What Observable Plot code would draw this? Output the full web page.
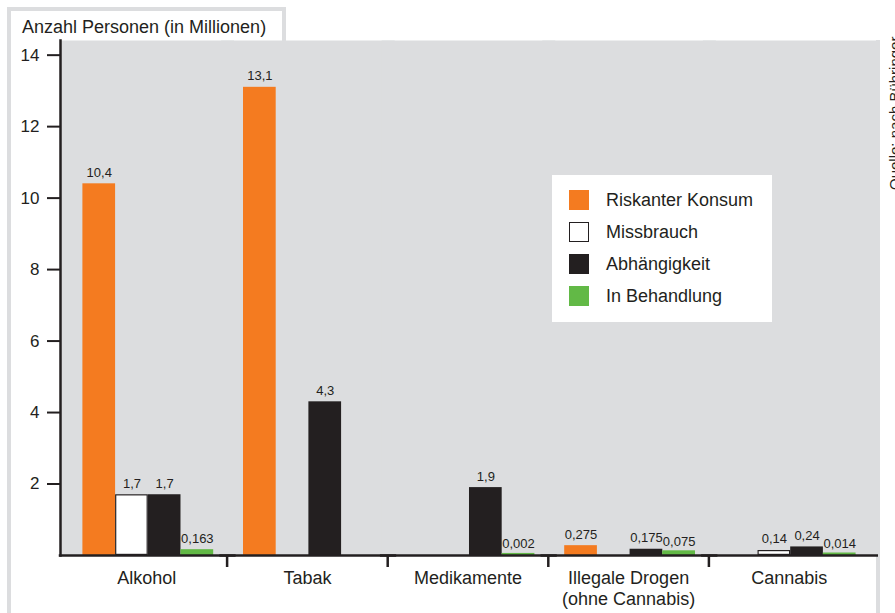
<!DOCTYPE html>
<html>
<head>
<meta charset="utf-8">
<script src="https://cdn.jsdelivr.net/npm/d3@7"></script>
<script src="https://cdn.jsdelivr.net/npm/@observablehq/plot@0.6"></script>
<style>
  html, body { margin: 0; padding: 0; background: #fff; }
  body { font-family: "Liberation Sans", Arial, sans-serif; color: #231f20; }
  #wrap { position: relative; width: 895px; height: 613px; overflow: hidden; background: #fff; }
  .strip { position: absolute; background: #dcdddf; }
  #title { position: absolute; left: 22px; top: 18px; font-size: 18px; line-height: 18px; white-space: nowrap; }
  #chart { position: absolute; left: 0; top: 0; }
  #legend { position: absolute; left: 552px; top: 175px; width: 220px; height: 147px; background: #fff; }
  .sw { position: absolute; left: 17px; width: 20px; height: 20px; box-sizing: border-box; }
  .lt { position: absolute; left: 54px; font-size: 18px; line-height: 20px; white-space: nowrap; }
  #source { position: absolute; left: 887px; top: 190px; font-size: 15px; line-height: 15px; white-space: nowrap;
            transform-origin: 0 0; transform: rotate(-90deg); }
</style>
</head>
<body>
<div id="wrap">
  <div class="strip" style="left:7px;top:7px;width:3.5px;height:606px"></div>
  <div class="strip" style="left:7px;top:7px;width:278.5px;height:3.5px"></div>
  <div class="strip" style="left:282px;top:7px;width:3.5px;height:34px"></div>
  <div class="strip" style="left:876px;top:40px;width:4px;height:573px"></div>
  <div id="title">Anzahl Personen (in Millionen)</div>
  <div id="chart"></div>
  <div id="legend"></div>
  <div id="source">Quelle: nach Bühringer</div>
</div>
<script>
// ---- data ----
const categories = ["Alkohol", "Tabak", "Medikamente", "Illegale Drogen\n(ohne Cannabis)", "Cannabis"];
const seriesNames = ["Riskanter Konsum", "Missbrauch", "Abhängigkeit", "In Behandlung"];
const riskanterKonsum = [10.4, 13.1, null, 0.275, null];
const missbrauch      = [1.7, null, null, null, 0.14];
const abhaengigkeit   = [1.7, 4.3, 1.9, 0.175, 0.24];
const inBehandlung    = [0.163, null, 0.002, 0.075, 0.014];
const yTicks = [2, 4, 6, 8, 10, 12, 14];
const seriesColors = ["#f47b20", "#ffffff", "#231f20", "#62b946"];

const valuesBySeries = [riskanterKonsum, missbrauch, abhaengigkeit, inBehandlung];
const data = [];
categories.forEach((c, i) => {
  seriesNames.forEach((s, j) => {
    const v = valuesBySeries[j][i];
    if (v != null) data.push({category: c, series: s, value: v, label: String(v).replace(".", ",")});
  });
});

// ---- layout ----
const W = 895, H = 613;
const mL = 66, mR = 26, mT = 40, mB = 58;
const step = (W - mL - mR) / categories.length;
const ink = "#231f20";
const gray = "#dcdddf";

const plot = Plot.plot({
  width: W, height: H,
  marginLeft: mL, marginRight: mR, marginTop: mT, marginBottom: mB,
  style: {background: "transparent", color: ink, fontFamily: '"Liberation Sans", Arial, sans-serif', overflow: "visible"},
  fx: {domain: categories, padding: 0, round: false, axis: null, label: null},
  x: {domain: seriesNames, paddingInner: 0, paddingOuter: 0.456, align: 0.55, round: false, axis: null},
  y: {domain: [0, 14.41], axis: null},
  color: {domain: seriesNames, range: seriesColors},
  marks: [
    Plot.frame({fill: gray, stroke: "none", insetLeft: -6, insetRight: -7}),
    Plot.barY(data, {fx: "category", x: "series", y: "value", fill: "series"}),
    Plot.barY(data.filter(d => d.value < 0.1), {fx: "category", x: "series", y: "value", fill: "series", insetTop: -2}),
    Plot.barY(data.filter(d => d.series === "Missbrauch"), {fx: "category", x: "series", y: "value", fill: "#fff", stroke: ink, strokeWidth: 1.2, inset: 0.6}),
    Plot.text(data, {fx: "category", x: "series", y: "value", text: "label", dy: -7, lineAnchor: "bottom", fontSize: 13, fill: ink}),
    Plot.ruleY([0], {insetLeft: -7.25, insetRight: -9, stroke: ink, strokeWidth: 2.5}),
    Plot.frame({anchor: "left", facetAnchor: "left", dx: -6, stroke: ink, strokeWidth: 2.5}),
    Plot.axisY(yTicks, {anchor: "left", facetAnchor: "left", dx: -6, tickSize: 13, tickPadding: 8, fontSize: 17, strokeWidth: 2, stroke: ink, fill: ink, label: null}),
    Plot.axisFx({ticks: categories.slice(0, 4), anchor: "bottom", tickSize: 12, tickFormat: () => "", dx: step / 2, strokeWidth: 2.5, stroke: ink, label: null}),
    Plot.axisFx({ticks: categories, anchor: "bottom", tickSize: 0, tickPadding: 13, fontSize: 18, lineHeight: 1.2, fill: ink, label: null})
  ]
});
document.getElementById("chart").appendChild(plot);

// ---- legend ----
const legend = document.getElementById("legend");
seriesNames.forEach((s, i) => {
  const sw = document.createElement("div");
  sw.className = "sw";
  sw.style.top = (15 + 32 * i) + "px";
  sw.style.background = seriesColors[i];
  if (s === "Missbrauch") sw.style.border = "1.5px solid " + ink;
  legend.appendChild(sw);
  const t = document.createElement("div");
  t.className = "lt";
  t.style.top = (15 + 32 * i) + "px";
  t.textContent = s;
  legend.appendChild(t);
});
</script>
</body>
</html>
